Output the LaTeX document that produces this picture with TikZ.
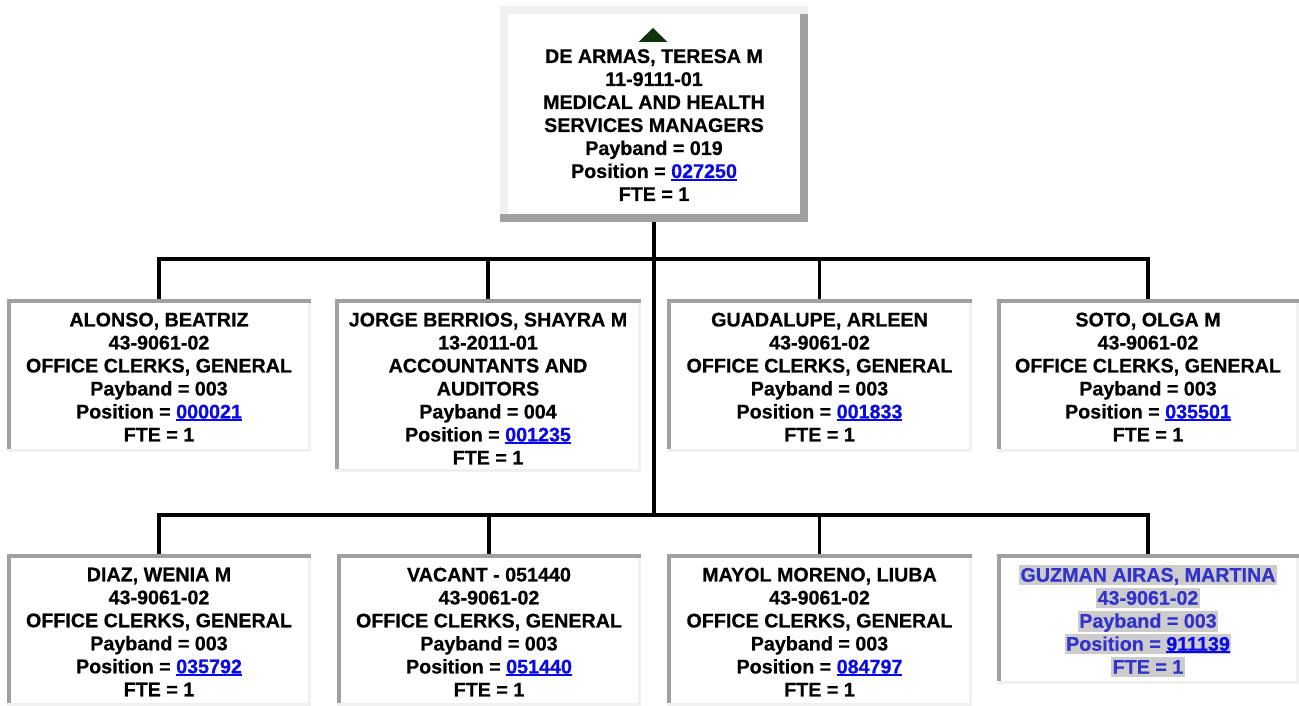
\documentclass[tikz,border=0pt]{standalone}
\usepackage{fontspec}
\setmainfont{Liberation Sans}[BoldFeatures={FakeBold=0.6}]
\usetikzlibrary{calc}
\definecolor{dg}{RGB}{160,160,160}
\definecolor{lg}{RGB}{240,240,240}
\definecolor{lnkblue}{RGB}{10,10,230}
\definecolor{hlgray}{RGB}{204,204,204}
\definecolor{hltext}{RGB}{51,51,204}
\definecolor{tri}{RGB}{15,50,15}
\newcommand\lnk[1]{{\color{lnkblue}\setbox0\hbox{#1}\rlap{\rule[-2.6pt]{\wd0}{1.9pt}}\box0}}
\newcommand\hlline[1]{{\setlength\fboxsep{0pt}\colorbox{hlgray}{\kern1.5pt\rule[-3pt]{0pt}{20pt}#1\kern1.5pt}}}
\newcommand\orgbox[5]{%
  \node[boxshape, minimum width={(#4)-(#2)}, minimum height={(#5)-(#3)}] (#1) at ({((#2)+(#4))/2},{((#3)+(#5))/2}) {};
  \fill[dg] (#2,#3) rectangle (#4,#3+3.5);
  \fill[dg] (#2,#3) rectangle (#2+3.5,#5-3.5);
  \fill[lg] (#2,#5-3.5) rectangle (#4,#5);
  \fill[lg] (#4-3.5,#3+3.5) rectangle (#4,#5-3.5);
}
\tikzset{
  boxtxt/.style={anchor=north, inner sep=0pt, align=center, font=\fontsize{19.7}{23}\selectfont\bfseries},
  conn/.style={line width=3.6pt, black},
  boxshape/.style={inner sep=0pt, outer sep=0pt, fill=white}
}
\begin{document}
\begin{tikzpicture}[x=1pt,y=-1pt]
\useasboundingbox[fill=white] (0,0) rectangle (1299,706);
% top box
\node[boxshape, minimum width=308pt, minimum height=216pt] (top) at (654,114) {};
\fill[lg] (500,6) rectangle (808,14);
\fill[lg] (500,14) rectangle (508,214);
\fill[dg] (500,214) rectangle (808,222);
\fill[dg] (800,14) rectangle (808,214);
\fill[tri] (638.5,42) -- (653,28) -- (667.5,42) -- cycle;
\node[boxtxt] (ttop) at (654,49) {DE ARMAS, TERESA M\\11-9111-01\\MEDICAL AND HEALTH\\SERVICES MANAGERS\\Payband = 019\\Position = \lnk{027250}\\FTE = 1};
% row 1
\orgbox{b1}{7}{299}{311}{452}
\orgbox{b2}{335}{299}{641}{472}
\orgbox{b3}{667}{299}{972}{452}
\orgbox{b4}{997}{299}{1299}{452}
\node[boxtxt] (t1) at (159,312.5) {ALONSO, BEATRIZ\\43-9061-02\\OFFICE CLERKS, GENERAL\\Payband = 003\\Position = \lnk{000021}\\FTE = 1};
\node[boxtxt] (t2) at (488,312.5) {JORGE BERRIOS, SHAYRA M\\13-2011-01\\ACCOUNTANTS AND\\AUDITORS\\Payband = 004\\Position = \lnk{001235}\\FTE = 1};
\node[boxtxt] (t3) at (819.5,312.5) {GUADALUPE, ARLEEN\\43-9061-02\\OFFICE CLERKS, GENERAL\\Payband = 003\\Position = \lnk{001833}\\FTE = 1};
\node[boxtxt] (t4) at (1148,312.5) {SOTO, OLGA M\\43-9061-02\\OFFICE CLERKS, GENERAL\\Payband = 003\\Position = \lnk{035501}\\FTE = 1};
% row 2
\orgbox{c1}{7}{554}{311}{706}
\orgbox{c2}{337}{554}{641}{706}
\orgbox{c3}{667}{554}{972}{706}
\orgbox{c4}{997}{554}{1299}{684}
\node[boxtxt] (u1) at (159,567.5) {DIAZ, WENIA M\\43-9061-02\\OFFICE CLERKS, GENERAL\\Payband = 003\\Position = \lnk{035792}\\FTE = 1};
\node[boxtxt] (u2) at (489,567.5) {VACANT - 051440\\43-9061-02\\OFFICE CLERKS, GENERAL\\Payband = 003\\Position = \lnk{051440}\\FTE = 1};
\node[boxtxt] (u3) at (819.5,567.5) {MAYOL MORENO, LIUBA\\43-9061-02\\OFFICE CLERKS, GENERAL\\Payband = 003\\Position = \lnk{084797}\\FTE = 1};
\node[boxtxt, text=hltext] (u4) at (1148,564.5) {\hlline{GUZMAN AIRAS, MARTINA}\\\hlline{43-9061-02}\\\hlline{Payband = 003}\\\hlline{Position = \lnk{911139}}\\\hlline{FTE = 1}};
% connectors
\coordinate (j1) at (654,259);
\coordinate (j2) at (654,515);
\draw[conn] (top.south) -- (j2);
\draw[conn] (b1.north) |- (j1) -| (b4.north);
\draw[conn] (b2.north) -- (b2.north |- j1);
\draw[conn] (b3.north) -- (b3.north |- j1);
\draw[conn] (c1.north) |- (j2) -| (c4.north);
\draw[conn] (c2.north) -- (c2.north |- j2);
\draw[conn] (c3.north) -- (c3.north |- j2);
\end{tikzpicture}
\end{document}
